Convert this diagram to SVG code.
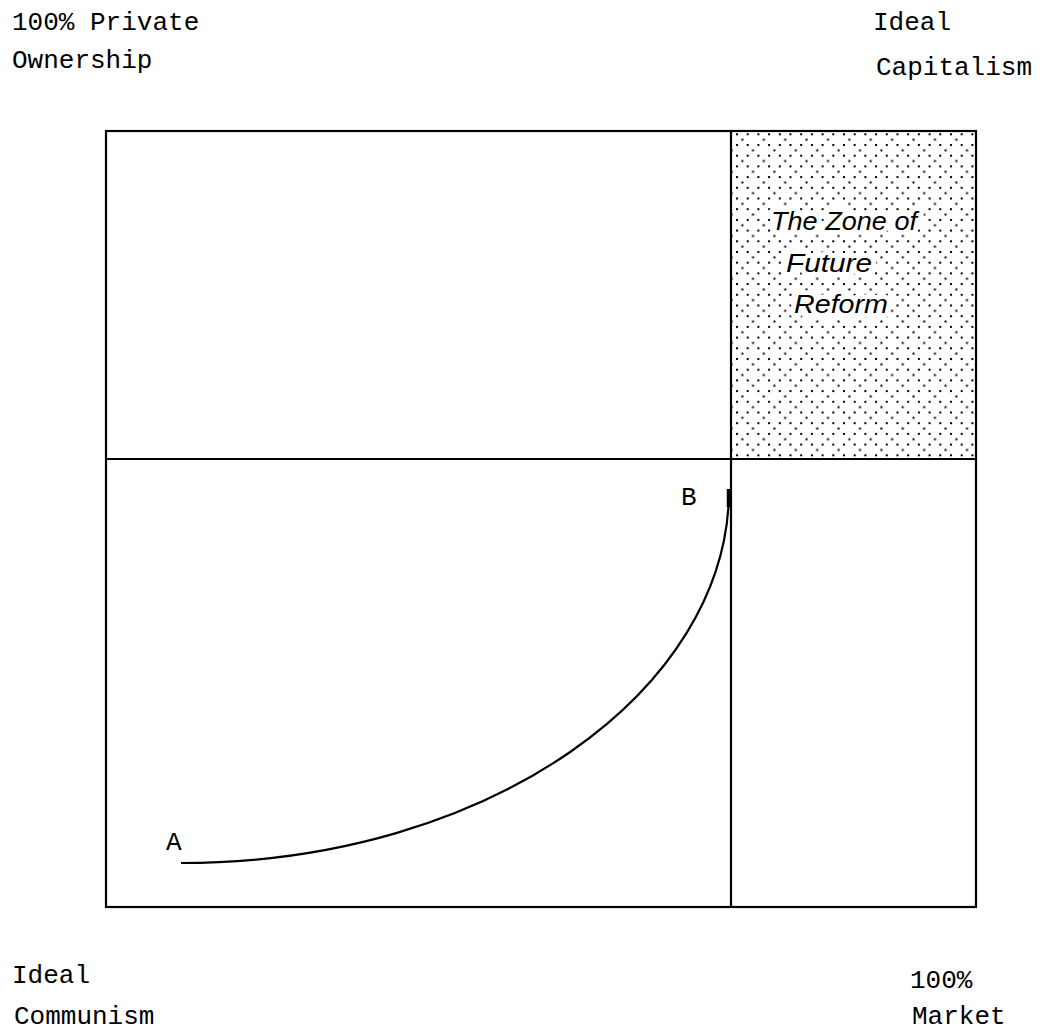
<svg xmlns="http://www.w3.org/2000/svg" width="1042" height="1032" viewBox="0 0 1042 1032">
<style>
.lbl{font-family:"Liberation Mono","Courier New",monospace;font-size:26px;fill:#000}
.zone{font-family:"Liberation Sans",Arial,sans-serif;font-style:italic;font-size:25px;fill:#000;stroke:#fff;stroke-width:9px;paint-order:stroke;stroke-linejoin:round}
.ln{stroke:#000;stroke-width:2.2;fill:none}
</style>
<defs>
<pattern id="dots" x="736" y="144" width="21.4" height="21.4" patternUnits="userSpaceOnUse">
<rect x="0" y="0" width="2" height="2" fill="#000"/>
<rect x="10.7" y="0" width="2" height="2" fill="#000"/>
<rect x="16" y="5.35" width="2" height="2" fill="#000"/>
<rect x="0" y="10.7" width="2" height="2" fill="#000"/>
<rect x="10.7" y="10.7" width="2" height="2" fill="#000"/>
<rect x="5.35" y="16.05" width="2" height="2" fill="#000"/>
</pattern>
</defs>
<rect width="1042" height="1032" fill="#fff"/>
<g id="corner-labels">
<text class="lbl" x="12" y="30">100% Private</text>
<text class="lbl" x="12" y="68">Ownership</text>
<text class="lbl" x="873" y="30">Ideal</text>
<text class="lbl" x="876" y="75">Capitalism</text>
<text class="lbl" x="12" y="983">Ideal</text>
<text class="lbl" x="14" y="1024">Communism</text>
<text class="lbl" x="910" y="988">100%</text>
<text class="lbl" x="912" y="1024">Market</text>
</g>
<g id="zone">
<rect x="731" y="131" width="245" height="328" fill="url(#dots)"/>
<text class="zone" x="844" y="230" text-anchor="middle" textLength="146" lengthAdjust="spacingAndGlyphs">The Zone of</text>
<text class="zone" x="829" y="272" text-anchor="middle" textLength="86" lengthAdjust="spacingAndGlyphs">Future</text>
<text class="zone" x="841" y="313" text-anchor="middle" textLength="94" lengthAdjust="spacingAndGlyphs">Reform</text>
</g>
<g id="frame">
<rect class="ln" x="106" y="131" width="870" height="776"/>
<line class="ln" x1="731" y1="131" x2="731" y2="907"/>
<line class="ln" x1="106" y1="459" x2="976" y2="459"/>
</g>
<g id="connectors">
<path class="ln" d="M181,863 C490,863 729,690 729,490"/>
<line x1="728.5" y1="489" x2="728.5" y2="507" stroke="#000" stroke-width="3.5"/>
</g>
<g id="points">
<text class="lbl" x="166" y="850" font-size="22">A</text>
<text class="lbl" x="681" y="505" font-size="22">B</text>
</g>
</svg>
